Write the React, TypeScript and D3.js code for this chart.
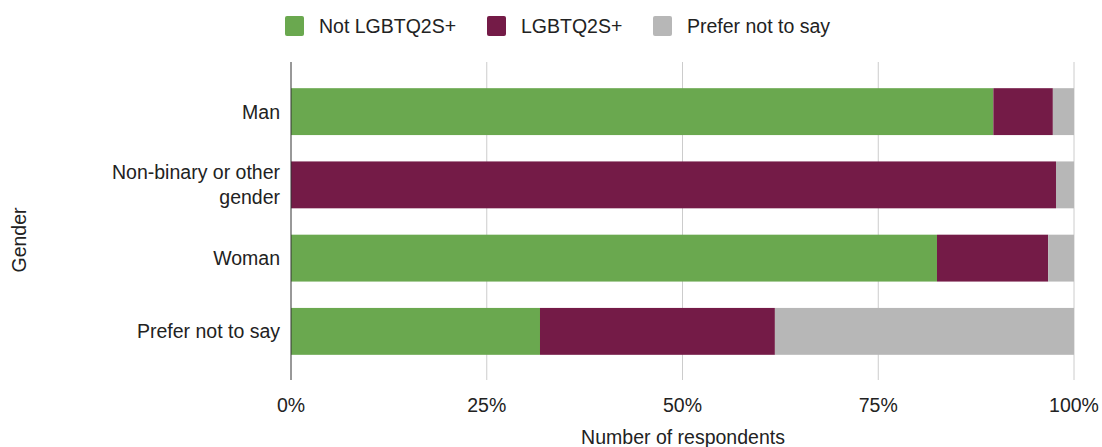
import React from "react";
import * as d3 from "d3";

const categories = ["Man", "Non-binary or other gender", "Woman", "Prefer not to say"];
const seriesNames = ["Not LGBTQ2S+", "LGBTQ2S+", "Prefer not to say"];
const notLgbtq = [89.7, 0, 82.5, 31.8];
const lgbtq = [7.6, 97.7, 14.2, 30.0];
const preferNot = [2.7, 2.3, 3.3, 38.2];
const ticks = [0, 25, 50, 75, 100];
const colors = ["#6aa84f", "#741b47", "#b7b7b7"];

const W = 1102, H = 447;
const left = 291, right = 1074;
const font = "'Liberation Sans', Arial, sans-serif";
const fs = 19.5;

export default function App() {
  const x = d3.scaleLinear().domain([0, 100]).range([left, right]);
  const y = d3.scaleBand().domain(categories).range([75, 368]).paddingInner(0.36).paddingOuter(0.18);
  const rows = categories.map((c, i) => ({ c, vals: [notLgbtq[i], lgbtq[i], preferNot[i]] }));
  const stack = d3.stack<any>().keys(["0", "1", "2"]).value((d: any, k: string) => d.vals[+k]);
  const series = stack(rows as any);
  const legendX = [285, 487, 653];
  const labelLines: Record<string, string[]> = {
    "Non-binary or other gender": ["Non-binary or other", "gender"],
  };
  return (
    <svg width={W} height={H} style={{ position: "absolute", left: 0, top: 0 }} fontFamily={font}>
      <rect width={W} height={H} fill="#fff" />
      {ticks.slice(1).map((t) => (
        <line key={t} x1={x(t)} x2={x(t)} y1={62} y2={380} stroke="#cccccc" strokeWidth={1} />
      ))}
      {series.map((s, si) =>
        s.map((d, i) => {
          const w = x(d[1]) - x(d[0]);
          if (w <= 0) return null;
          return (
            <rect key={si + "-" + i} x={x(d[0])} y={y(categories[i])} width={w} height={y.bandwidth()} fill={colors[si]} />
          );
        })
      )}
      <line x1={left} x2={left} y1={62} y2={380} stroke="#333" strokeWidth={1} />
      {ticks.map((t) => (
        <text key={t} x={x(t)} y={412} textAnchor="middle" fontSize={fs} fill="#222">{t + "%"}</text>
      ))}
      {categories.map((c) => {
        const lines = labelLines[c] || [c];
        const cy = (y(c) as number) + y.bandwidth() / 2;
        return (
          <text key={c} x={280} textAnchor="end" fontSize={fs} fill="#222">
            {lines.map((l, j) => (
              <tspan key={j} x={280} y={cy + 7 + (j - (lines.length - 1) / 2) * 25}>{l}</tspan>
            ))}
          </text>
        );
      })}
      <text transform="translate(26,240) rotate(-90)" textAnchor="middle" fontSize={fs} fill="#222">Gender</text>
      <text x={683} y={444} textAnchor="middle" fontSize={fs} fill="#222">Number of respondents</text>
      {seriesNames.map((n, i) => (
        <g key={n}>
          <rect x={legendX[i]} y={16} width={19} height={20} rx={2} fill={colors[i]} />
          <text x={legendX[i] + 34} y={33} fontSize={fs} fill="#222">{n}</text>
        </g>
      ))}
    </svg>
  );
}
